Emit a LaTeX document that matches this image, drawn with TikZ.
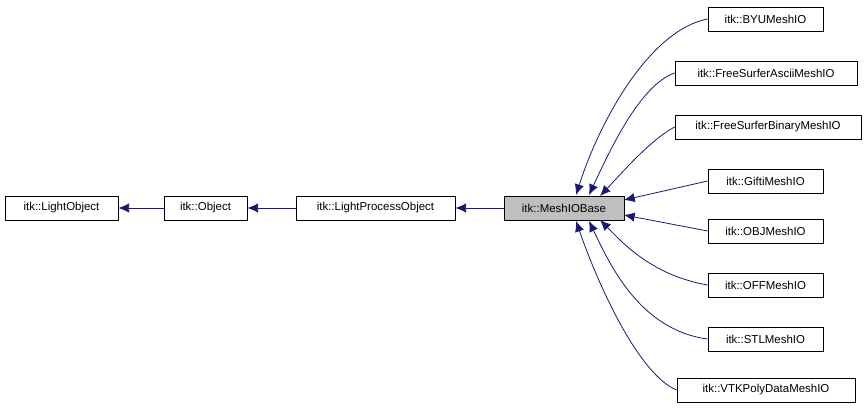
\documentclass[tikz,border=0pt]{standalone}
\usepackage{fontspec}
\setmainfont{Liberation Sans}
\usetikzlibrary{arrows.meta}
\definecolor{edge}{HTML}{191970}
\begin{document}
\begin{tikzpicture}[x=0.75pt,y=-0.75pt,
  box/.style={draw=black,line width=0.6pt,minimum height=18pt,inner xsep=3pt,font=\fontsize{8.6}{10}\selectfont,anchor=center},
  e/.style={draw=edge,line width=0.6pt,-{Latex[length=8pt,width=7pt]}}]
\useasboundingbox (0,0) rectangle (867,413);
\node[box,minimum width=113*0.75pt] (lo) at (61.5,208) {itk::LightObject};
\node[box,minimum width=83*0.75pt] (ob) at (205.5,208) {itk::Object};
\node[box,minimum width=159*0.75pt] (lp) at (375.5,208) {itk::LightProcessObject};
\node[box,minimum width=120*0.75pt,fill={rgb,255:red,191;green,191;blue,191}] (mb) at (564,208) {itk::MeshIOBase};
\node[box,minimum width=115*0.75pt] (c1) at (765.5,19) {itk::BYUMeshIO};
\node[box,minimum width=182*0.75pt] (c2) at (766,73) {itk::FreeSurferAsciiMeshIO};
\node[box,minimum width=186*0.75pt] (c3) at (768,127) {itk::FreeSurferBinaryMeshIO};
\node[box,minimum width=115*0.75pt] (c4) at (765.5,181) {itk::GiftiMeshIO};
\node[box,minimum width=115*0.75pt] (c5) at (765.5,231) {itk::OBJMeshIO};
\node[box,minimum width=115*0.75pt] (c6) at (765.5,285) {itk::OFFMeshIO};
\node[box,minimum width=115*0.75pt] (c7) at (765.5,339) {itk::STLMeshIO};
\node[box,minimum width=178*0.75pt] (c8) at (766,390) {itk::VTKPolyDataMeshIO};
\draw[e] (ob) -- (lo);
\draw[e] (lp) -- (ob);
\draw[e] (mb) -- (lp);
\coordinate (t1) at (576,195);
\coordinate (t2) at (589,195);
\coordinate (t3) at (600,196);
\coordinate (t4) at (624,200);
\coordinate (t5) at (624,215);
\coordinate (t6) at (600,220);
\coordinate (t7) at (589,221);
\coordinate (t8) at (576,221);
\draw[e] (c1.west) .. controls (650,30) and (600,120) .. (t1);
\draw[e] (c2.west) .. controls (640,85) and (610,150) .. (t2);
\draw[e] (c3.west) .. controls (650,140) and (620,175) .. (t3);
\draw[e] (c4.west) -- (t4);
\draw[e] (c5.west) -- (t5);
\draw[e] (c6.west) .. controls (650,275) and (620,240) .. (t6);
\draw[e] (c7.west) .. controls (640,330) and (610,265) .. (t7);
\draw[e] (c8.west) .. controls (640,375) and (600,290) .. (t8);
\end{tikzpicture}
\end{document}
